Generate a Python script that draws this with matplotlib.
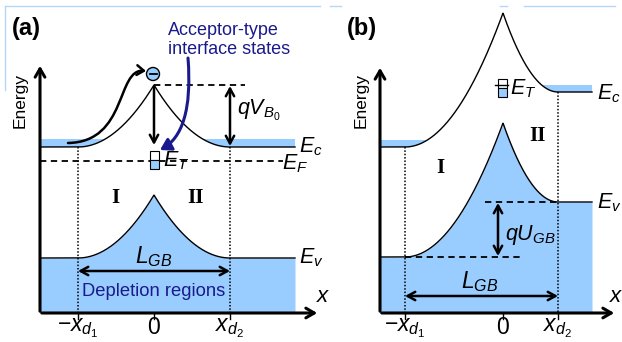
import numpy as np
import matplotlib
matplotlib.use("Agg")
import matplotlib.pyplot as plt
from matplotlib.patches import FancyArrowPatch, Rectangle, Circle
from matplotlib.path import Path

plt.rcParams['font.family'] = ['Liberation Sans', 'DejaVu Sans']
plt.rcParams['mathtext.fontset'] = 'custom'
plt.rcParams['mathtext.it'] = 'Liberation Sans:italic'
plt.rcParams['mathtext.rm'] = 'Liberation Sans'

BLUE = '#99ccff'
NAVY = '#1a1a8c'
FRAME = '#b3d7fb'

# band diagram levels (pixel units, y grows downward)
# panel (a): symmetric barrier at the grain boundary
A_AXIS = [40, 313]              # energy axis x, x-axis y
A_XD = [78, 154, 230]           # -x_d1, 0, x_d2
A_EC = [147, 85, 147]           # Ec left, peak, right
A_EV = [258, 195, 258]          # Ev left, peak, right
A_EF = 161
A_EDGE = 295                    # right end of the bands
A_TICKS = [r'$-x_{d_1}$', r'$0$', r'$x_{d_2}$']

# panel (b): asymmetric barrier under bias
B_AXIS = [380, 313]
B_XD = [405, 503, 558]
B_EC = [147, 13, 92]
B_EV = [257, 123, 202]
B_EDGE = 592
B_TICKS = [r'$-x_{d_1}$', r'$0$', r'$x_{d_2}$']


def band(x, xd, lev):
    xl, x0, xr = xd
    bl, pk, br = lev
    dl = np.clip(1 - (x0 - x) / (x0 - xl), 0, 1)
    dr = np.clip(1 - (x - x0) / (xr - x0), 0, 1)
    return np.where(x < x0, bl - (bl - pk) * dl ** 2, br - (br - pk) * dr ** 2)


def axes_arrows(ax, xa, ya, top, right):
    ax.annotate('', xy=(xa, top), xytext=(xa, ya + 1),
                arrowprops=dict(arrowstyle='->,head_length=0.6,head_width=0.35', lw=2.2, color='black'))
    ax.annotate('', xy=(right, ya), xytext=(xa - 1, ya),
                arrowprops=dict(arrowstyle='->,head_length=0.6,head_width=0.35', lw=2.2, color='black'))


def dbl_arrow(ax, p0, p1):
    ax.annotate('', xy=p1, xytext=p0,
                arrowprops=dict(arrowstyle='<->,head_length=0.55,head_width=0.3', lw=1.8, color='black',
                                shrinkA=0, shrinkB=0))


def draw_panel(ax, axis, xd, ec, ev, edge, ticks, ec_top):
    xa, ya = axis
    x = np.linspace(xa, edge, 800)
    yc = band(x, xd, ec)
    yv = band(x, xd, ev)

    # occupied states: electrons above Ec and filled valence band
    ax.fill_between(x, np.minimum(yc, ec_top(x)), yc, where=yc > ec_top(x), color=BLUE, lw=0)
    ax.fill_between(x, yv, ya, color=BLUE, lw=0)
    ax.plot(x, yc, color='black', lw=1.0)
    ax.plot(x, yv, color='black', lw=1.0)

    for xi, yi in [(xd[0], ec[0]), (xd[2], ec[2])]:
        ax.plot([xi, xi], [yi, ya], color='black', lw=1.1, ls=(0, (1, 1.2)))
    for xi, lab in zip(xd, ticks):
        ax.plot([xi, xi], [ya, ya + 6], color='black', lw=1.0)
        ax.text(xi, ya + 3, lab, ha='center', va='top', fontsize=16.5)


fig = plt.figure(figsize=(6.22, 3.42), dpi=100)
ax = fig.add_axes([0, 0, 1, 1])
ax.set_xlim(0, 622)
ax.set_ylim(342, 0)
ax.axis('off')

# faint frame pieces
ax.plot([5, 320], [6, 6], color=FRAME, lw=1)
ax.plot([5, 5], [6, 90], color=FRAME, lw=1)
for s, e in [(330, 341), (500, 507), (524, 615)]:
    ax.plot([s, e], [6, 6], color=FRAME, lw=1)

# ---------------- panel (a) ----------------
draw_panel(ax, A_AXIS, A_XD, A_EC, A_EV, A_EDGE, A_TICKS,
           lambda x: np.full_like(x, 139.0))
axes_arrows(ax, A_AXIS[0], A_AXIS[1], 63, 320)

ax.plot([A_XD[1], 245], [A_EC[1], A_EC[1]], color='black', lw=1.3, ls=(0, (3.5, 2.5)))
ax.plot([A_AXIS[0], 283], [A_EF, A_EF], color='black', lw=1.3, ls=(0, (3.5, 2.5)))
dbl_arrow(ax, (A_XD[2], A_EC[1] + 1), (A_XD[2], A_EC[2] - 1))
ax.annotate('', xy=(A_XD[1], A_EC[2] - 2), xytext=(A_XD[1], A_EC[1] + 2),
            arrowprops=dict(arrowstyle='->,head_length=0.55,head_width=0.3', lw=1.8, color='black',
                            shrinkA=0, shrinkB=0))

# trap level E_T
ax.add_patch(Rectangle((150, 151), 9, 9, facecolor='white', edgecolor='black', lw=0.8, zorder=4))
ax.add_patch(Rectangle((150, 160), 9, 9, facecolor=BLUE, edgecolor='black', lw=0.8, zorder=4))

# electron hopping over the barrier
ax.add_patch(Circle((153, 74), 6.5, facecolor=BLUE, edgecolor='black', lw=1.0, zorder=5))
ax.plot([150, 156.5], [74, 74], color='black', lw=1.3, zorder=6)
hop = Path([(68, 143), (128, 142), (116, 68), (146, 71)],
           [Path.MOVETO, Path.CURVE4, Path.CURVE4, Path.CURVE4])
ax.add_patch(FancyArrowPatch(path=hop, arrowstyle='->,head_length=5,head_width=3.5',
                             lw=1.8, color='black'))
trap = Path([(188, 58), (192, 110), (182, 138), (160, 150)],
            [Path.MOVETO, Path.CURVE4, Path.CURVE4, Path.CURVE4])
ax.add_patch(FancyArrowPatch(path=trap, arrowstyle='-|>,head_length=6.5,head_width=4',
                             lw=2.2, color=NAVY, zorder=6))

ax.text(12, 28, '(a)', fontsize=17, fontweight='bold', va='center')
ax.text(20, 100, 'Energy', rotation=90, fontsize=12.5, ha='center', va='center')
ax.text(168, 40, 'Acceptor-type\ninterface states', color=NAVY, fontsize=13,
        ha='left', va='center', linespacing=1.1)
ax.text(237, 110, r'$qV_{B_0}$', fontsize=15.5, va='center')
ax.text(299, 147, r'$E_c$', fontsize=15.5, va='center')
ax.text(163, 161, r'$E_T$', fontsize=15.5, va='center')
ax.text(282, 164, r'$E_F$', fontsize=15.5, va='center')
ax.text(299, 258, r'$E_v$', fontsize=15.5, va='center')
ax.text(115, 198, 'I', family='Liberation Serif', fontweight='bold', fontsize=15,
        ha='center', va='center')
ax.text(196, 198, 'II', family='Liberation Serif', fontweight='bold', fontsize=15,
        ha='center', va='center')
dbl_arrow(ax, (A_XD[0], 271), (A_XD[2], 271))
ax.text(A_XD[1], 257, r'$L_{GB}$', fontsize=16.5, ha='center', va='center')
ax.text(A_XD[1], 292, 'Depletion regions', color=NAVY, fontsize=13.2, ha='center', va='center')
ax.text(323, 297, r'$x$', fontsize=16, ha='center', va='center')

# ---------------- panel (b) ----------------
draw_panel(ax, B_AXIS, B_XD, B_EC, B_EV, B_EDGE, B_TICKS,
           lambda x: np.where(x < B_XD[1], 140.0, 85.0))
axes_arrows(ax, B_AXIS[0], B_AXIS[1], 65, 617)

ax.plot([485, B_XD[2]], [B_EV[2], B_EV[2]], color='black', lw=1.3, ls=(0, (3.5, 2.5)))
ax.plot([B_XD[0], 520], [B_EV[0], B_EV[0]], color='black', lw=1.3, ls=(0, (3.5, 2.5)))
dbl_arrow(ax, (498, B_EV[2] + 1), (498, B_EV[0] - 1))
dbl_arrow(ax, (B_XD[0], 296), (B_XD[2], 296))

ax.add_patch(Rectangle((498, 79), 9, 9, facecolor='white', edgecolor='black', lw=0.8, zorder=4))
ax.add_patch(Rectangle((498, 88), 9, 9, facecolor=BLUE, edgecolor='black', lw=0.8, zorder=4))
ax.plot([495, 508], [85, 85], color='black', lw=1.0, zorder=5)

ax.text(347, 28, '(b)', fontsize=17, fontweight='bold', va='center')
ax.text(361, 100, 'Energy', rotation=90, fontsize=12.5, ha='center', va='center')
ax.text(510, 89, r'$E_T$', fontsize=15.5, va='center')
ax.text(597, 94, r'$E_c$', fontsize=15.5, va='center')
ax.text(597, 203, r'$E_v$', fontsize=15.5, va='center')
ax.text(505, 235, r'$qU_{GB}$', fontsize=15.5, va='center')
ax.text(480, 282, r'$L_{GB}$', fontsize=16.5, ha='center', va='center')
ax.text(440, 168, 'I', family='Liberation Serif', fontweight='bold', fontsize=15,
        ha='center', va='center')
ax.text(538, 136, 'II', family='Liberation Serif', fontweight='bold', fontsize=15,
        ha='center', va='center')
ax.text(616, 297, r'$x$', fontsize=16, ha='center', va='center')

fig.savefig('out.png', dpi=100)
